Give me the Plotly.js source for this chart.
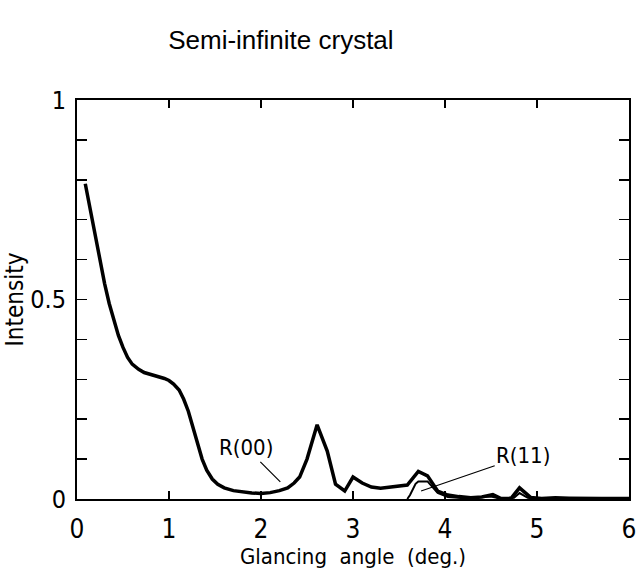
<!DOCTYPE html>
<html>
<head>
<meta charset="utf-8">
<script src="https://cdn.plot.ly/plotly-3.0.1.min.js"></script>
<style>html,body{margin:0;padding:0;background:#fff;}</style>
</head>
<body>
<div id="chart" style="width:637px;height:577px;"></div>
<script>
// R(00) specular intensity
const r00Angle = [0.09,0.14,0.19,0.25,0.30,0.35,0.40,0.45,0.50,0.55,0.60,0.67,0.73,0.80,0.88,0.95,1.00,1.05,1.11,1.16,1.21,1.26,1.31,1.36,1.41,1.47,1.53,1.60,1.70,1.80,1.90,2.00,2.10,2.20,2.29,2.36,2.42,2.50,2.61,2.72,2.81,2.91,3.00,3.10,3.20,3.30,3.45,3.59,3.71,3.81,3.92,4.03,4.15,4.28,4.40,4.52,4.61,4.72,4.81,4.93,5.05,5.20,5.35,5.50,5.70,5.90,6.00];
const r00Intensity = [0.79,0.73,0.67,0.60,0.54,0.49,0.45,0.41,0.38,0.355,0.338,0.325,0.317,0.312,0.308,0.302,0.297,0.288,0.273,0.25,0.22,0.18,0.135,0.10,0.072,0.05,0.037,0.028,0.021,0.017,0.015,0.014,0.016,0.021,0.028,0.04,0.055,0.10,0.186,0.12,0.037,0.02,0.055,0.04,0.03,0.027,0.031,0.035,0.069,0.058,0.02,0.01,0.006,0.003,0.005,0.011,0.001,0.002,0.028,0.004,0.001,0.003,0.002,0.001,0.001,0.001,0.001];
// R(11) intensity
const r11Angle = [3.59,3.62,3.68,3.71,3.81,3.92,4.03,4.20,4.50,4.60,4.75,4.81,4.90,5.00,6.00];
const r11Intensity = [0,0.01,0.038,0.044,0.044,0.015,0.005,0.002,0.006,0.001,0.003,0.015,0.003,0,0];

const narrow = 'DejaVu Sans Condensed, Liberation Sans Narrow, sans-serif';

const data = [
  {x: r00Angle, y: r00Intensity, type: 'scatter', mode: 'lines',
   line: {color: '#000', width: 3.5}, hoverinfo: 'skip', showlegend: false},
  {x: r11Angle, y: r11Intensity, type: 'scatter', mode: 'lines',
   line: {color: '#000', width: 2}, hoverinfo: 'skip', showlegend: false}
];

const layout = {
  width: 637, height: 577,
  margin: {l: 77, r: 8, t: 100, b: 78},
  paper_bgcolor: '#fff', plot_bgcolor: '#fff',
  title: {text: 'Semi-infinite crystal', x: 0.441, xanchor: 'center', y: 0.93, yanchor: 'middle',
          font: {family: 'Liberation Sans, Arial, sans-serif', size: 26, color: '#000'}},
  xaxis: {
    range: [0, 6], dtick: 1, tick0: 0,
    ticks: 'inside', ticklen: 8, tickwidth: 1.5, tickcolor: '#000',
    showline: true, linewidth: 2, linecolor: '#000', mirror: 'allticks',
    showgrid: false, zeroline: false, ticklabelstandoff: 6,
    tickfont: {family: narrow, size: 26, color: '#000'},
    title: {text: 'Glancing\u00A0\u00A0angle\u00A0\u00A0(deg.)', standoff: 0,
            font: {family: narrow, size: 22, color: '#000'}}
  },
  yaxis: {
    range: [0, 1], dtick: 0.5, tick0: 0,
    ticks: 'inside', ticklen: 10, tickwidth: 1.5, tickcolor: '#000',
    minor: {dtick: 0.1, ticks: 'inside', ticklen: 10, tickwidth: 1.5, tickcolor: '#000'},
    showline: true, linewidth: 2, linecolor: '#000', mirror: 'allticks',
    showgrid: false, zeroline: false, ticklabelstandoff: 4,
    tickfont: {family: narrow, size: 25, color: '#000'},
    title: {text: 'Intensity', standoff: 0,
            font: {family: narrow, size: 24, color: '#000'}}
  },
  annotations: [
    {x: 2.21, y: 0.043, ax: 1.84, ay: 0.128, axref: 'x', ayref: 'y', xref: 'x', yref: 'y',
     text: 'R(00)', showarrow: true, arrowhead: 0, arrowwidth: 1.2, arrowcolor: '#000',
     font: {family: narrow, size: 22, color: '#000'}},
    {x: 3.74, y: 0.02, ax: 4.85, ay: 0.108, axref: 'x', ayref: 'y', xref: 'x', yref: 'y',
     text: 'R(11)', showarrow: true, arrowhead: 0, arrowwidth: 1.2, arrowcolor: '#000',
     font: {family: narrow, size: 22, color: '#000'}}
  ]
};

Plotly.newPlot('chart', data, layout, {displayModeBar: false, staticPlot: true});
</script>
</body>
</html>
